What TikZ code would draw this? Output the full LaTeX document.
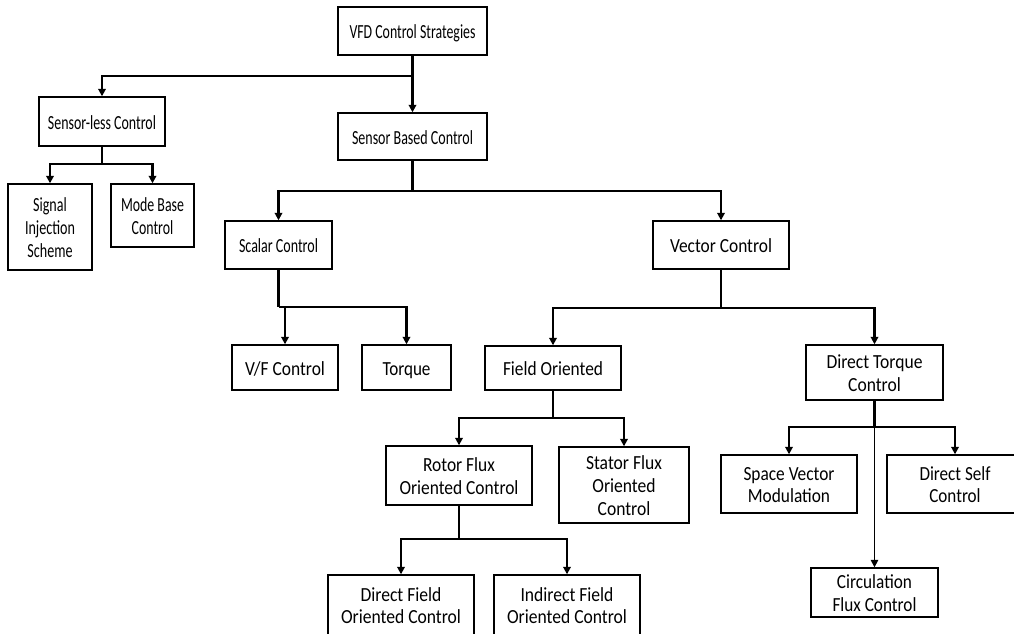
\documentclass[tikz,border=0pt]{standalone}
\usepackage{fontspec}
\setmainfont{Carlito}
\usetikzlibrary{arrows.meta}
% text squeezed to the width it has in the chart
\newcommand{\fitw}[2]{\raisebox{-3pt}[\height][\depth]{\resizebox{#1}{\height}{\begin{tabular}{@{}c@{}}#2\end{tabular}}}}
\tikzset{
  blk/.style={draw, line width=1.4pt, align=center, inner sep=0pt,
    font=\fontsize{20}{22.8}\selectfont},
  conn/.style={-{Triangle[length=7.5pt,width=7.5pt]}, line width=2.2pt},
  bus/.style={line width=2.2pt},
  thinconn/.style={conn, line width=1.5pt}
}

\begin{document}
\begin{tikzpicture}[x=1pt,y=-1pt]
    \clip (0,0) rectangle (1014,633);
    % levels 0 -- 2
    \node[blk, minimum width=149, minimum height=48] (vfd) at (412.5,31) {\fitw{126pt}{VFD Control Strategies}};
    \node[blk, minimum width=126, minimum height=49] (sless) at (102,121.5) {\fitw{108pt}{Sensor-less Control}};
    \node[blk, minimum width=149, minimum height=47] (sbased) at (412.5,136.5) {\fitw{121pt}{Sensor Based Control}};
    \node[blk, minimum width=84, minimum height=86] (sig) at (50,227) {\fitw{50pt}{Signal\\Injection\\Scheme}};
    \node[blk, minimum width=83, minimum height=63] (mode) at (152.5,215.5) {\fitw{63pt}{Mode Base\\Control}};
    \node[blk, minimum width=107, minimum height=48] (scalar) at (278.5,245) {\fitw{79pt}{Scalar Control}};
    \node[blk, minimum width=136, minimum height=48] (vector) at (721,245) {\fitw{102pt}{Vector Control}};
    % level 3
    \node[blk, minimum width=106, minimum height=45] (vf) at (285,367.5) {\fitw{80pt}{V/F Control}};
    \node[blk, minimum width=89, minimum height=45] (torque) at (406.5,367.5) {\fitw{48pt}{Torque}};
    \node[blk, minimum width=136, minimum height=44] (field) at (553,368) {\fitw{100pt}{Field Oriented}};
    \node[blk, minimum width=137, minimum height=55] (dtc) at (874.5,372.5) {\fitw{96pt}{Direct Torque\\Control}};
    % levels 4 -- 5
    \node[blk, minimum width=146, minimum height=59] (rotor) at (459,475.5) {\fitw{119pt}{Rotor Flux\\Oriented Control}};
    \node[blk, minimum width=130, minimum height=76] (stator) at (624,485) {\fitw{76pt}{Stator Flux\\Oriented\\Control}};
    \node[blk, minimum width=136, minimum height=58] (svm) at (789,484) {\fitw{91pt}{Space Vector\\Modulation}};
    \node[blk, minimum width=136, minimum height=58] (dsc) at (955,484) {\fitw{71pt}{Direct Self\\Control}};
    \node[blk, minimum width=146, minimum height=60] (dfoc) at (401,605) {\fitw{120pt}{Direct Field\\Oriented Control}};
    \node[blk, minimum width=146, minimum height=60] (ifoc) at (567,605) {\fitw{120pt}{Indirect Field\\Oriented Control}};
    \node[blk, minimum width=127, minimum height=49] (cfc) at (874.5,592.5) {\fitw{84pt}{Circulation\\Flux Control}};

    % junctions
    \coordinate (j1) at (412.5,76);
    \coordinate (j2) at (102,164);
    \coordinate (j3) at (412.5,191);
    \coordinate (j4) at (278.5,307);
    \coordinate (j5) at (721,308);
    \coordinate (j6) at (553,418);
    \coordinate (j7) at (459,539);
    \coordinate (j8) at (874.5,427);

    \draw[conn] (vfd.south) -- (j1) -| (sless.north);
    \draw[conn] (j1) -- (sbased.north);
    \draw[bus] (sless.south) -- (j2);
    \draw[conn] (j2) -| (sig.north);
    \draw[conn] (j2) -| (mode.north);
    \draw[bus] (sbased.south) -- (j3);
    \draw[conn] (j3) -| (scalar.north);
    \draw[conn] (j3) -| (vector.north);
    \draw[bus] (scalar.south) -- (j4);
    \draw[conn] (j4) -| (vf.north);
    \draw[conn] (j4) -| (torque.north);
    \draw[bus] (vector.south) -- (j5);
    \draw[conn] (j5) -| (field.north);
    \draw[conn] (j5) -| (dtc.north);
    \draw[bus] (field.south) -- (j6);
    \draw[conn] (j6) -| (rotor.north);
    \draw[conn] (j6) -| (stator.north);
    \draw[bus] (rotor.south) -- (j7);
    \draw[conn] (j7) -| (dfoc.north);
    \draw[conn] (j7) -| (ifoc.north);
    \draw[bus] (dtc.south) -- (j8);
    \draw[conn] (j8) -| (svm.north);
    \draw[conn] (j8) -| (dsc.north);
    \draw[thinconn] (j8) -- (cfc.north);
  \end{tikzpicture}
\end{document}
